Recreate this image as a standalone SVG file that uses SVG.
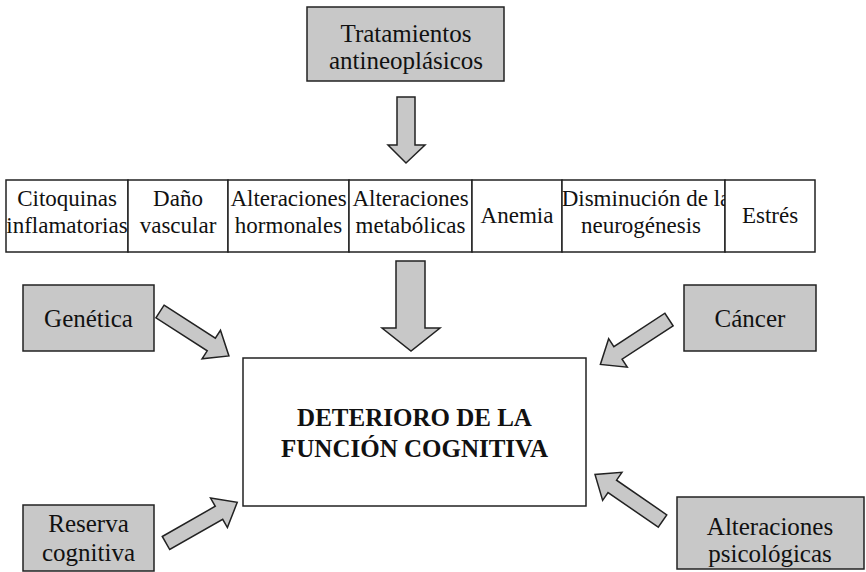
<svg xmlns="http://www.w3.org/2000/svg" xmlns:xlink="http://www.w3.org/1999/xlink" width="866" height="572" viewBox="0 0 866 572">
<style>
  .box { fill: #c8c8c8; stroke: #222; stroke-width: 1.5; }
  .wbox { fill: #ffffff; stroke: #222; stroke-width: 1.5; }
  .cell { fill: #ffffff; stroke: #222; stroke-width: 1.5; }
  .arrow { fill: #c8c8c8; stroke: #222; stroke-width: 1.5; stroke-linejoin: miter; }
  text { font-family: "Liberation Serif", "Times New Roman", serif; fill: #111; text-anchor: middle; }
  .t25 { font-size: 25px; }
  .t23 { font-size: 23px; }
  .bold { font-size: 25px; font-weight: bold; }
</style>
<defs>
  <path id="diag" d="M0,-7.5 L61,-7.5 L61,-17 L82,0 L61,17 L61,7.5 L0,7.5 Z"/>
  <clipPath id="clipDis"><rect x="562" y="180" width="163" height="72"/></clipPath>
</defs>
<rect width="866" height="572" fill="#ffffff"/>

<g id="tratamientos">
  <rect class="box" x="307" y="7" width="197" height="74"/>
  <text class="t25" x="406" y="42">Tratamientos</text>
  <text class="t25" x="406" y="69">antineoplásicos</text>
</g>

<g id="factores">
  <rect class="cell" x="6" y="180" width="122" height="72"/>
  <rect class="cell" x="128" y="180" width="100" height="72"/>
  <rect class="cell" x="228" y="180" width="121" height="72"/>
  <rect class="cell" x="349" y="180" width="123" height="72"/>
  <rect class="cell" x="472" y="180" width="90" height="72"/>
  <rect class="cell" x="562" y="180" width="163" height="72"/>
  <rect class="cell" x="725" y="180" width="90" height="72"/>
  <text class="t23" x="67" y="206">Citoquinas</text>
  <text class="t23" x="67" y="233">inflamatorias</text>
  <text class="t23" x="178" y="206">Daño</text>
  <text class="t23" x="178" y="233">vascular</text>
  <text class="t23" x="288.5" y="206">Alteraciones</text>
  <text class="t23" x="288.5" y="233">hormonales</text>
  <text class="t23" x="410.5" y="206">Alteraciones</text>
  <text class="t23" x="410.5" y="233">metabólicas</text>
  <text class="t23" x="517" y="223">Anemia</text>
  <g clip-path="url(#clipDis)">
    <text class="t23" x="646" y="206">Disminución de la</text>
  </g>
  <text class="t23" x="641" y="233">neurogénesis</text>
  <text class="t23" x="770" y="223">Estrés</text>
</g>

<g id="deterioro">
  <rect class="wbox" x="243" y="358" width="343" height="148"/>
  <text class="bold" x="414.5" y="426">DETERIORO DE LA</text>
  <text class="bold" x="414.5" y="457">FUNCIÓN COGNITIVA</text>
</g>

<g id="genetica">
  <rect class="box" x="23" y="285" width="131" height="66"/>
  <text class="t25" x="88.5" y="327">Genética</text>
</g>

<g id="cancer">
  <rect class="box" x="684" y="285" width="132" height="66"/>
  <text class="t25" x="750" y="327">Cáncer</text>
</g>

<g id="reserva">
  <rect class="box" x="23" y="505" width="131" height="66"/>
  <text class="t25" x="88.5" y="532">Reserva</text>
  <text class="t25" x="88.5" y="561">cognitiva</text>
</g>

<g id="psicologicas">
  <rect class="box" x="677" y="497" width="187" height="72"/>
  <text class="t25" x="770" y="535">Alteraciones</text>
  <text class="t25" x="770" y="562">psicológicas</text>
</g>

<g id="connectors">
  <path class="arrow" d="M397,97 L415,97 L415,145 L425,145 L406,163 L388,145 L397,145 Z"/>
  <path class="arrow" d="M396,261 L425,261 L425,328 L440,328 L411,351 L382,328 L396,328 Z"/>
  <use xlink:href="#diag" class="arrow" transform="translate(160,311.5) rotate(32.8)"/>
  <use xlink:href="#diag" class="arrow" transform="translate(669,319.5) rotate(146.8)"/>
  <use xlink:href="#diag" class="arrow" transform="translate(166,543) rotate(-29.7)"/>
  <use xlink:href="#diag" class="arrow" transform="translate(662.5,521) rotate(-145.4)"/>
</g>
</svg>
